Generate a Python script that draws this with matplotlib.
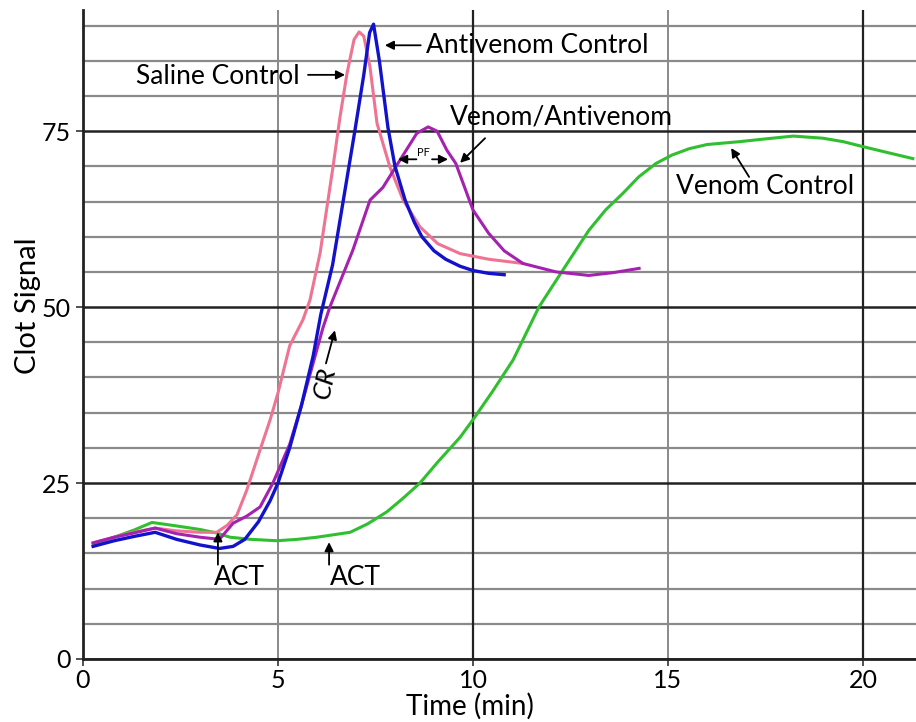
import matplotlib
matplotlib.use('Agg')
import matplotlib.pyplot as plt
from matplotlib.ticker import MultipleLocator

plt.rcParams['font.family'] = ['Lato', 'DejaVu Sans']

# --- data ---
saline_t = [0.26, 0.8, 1.3, 1.85, 2.4, 3.0, 3.43, 3.7, 3.95, 4.2, 4.54, 4.8, 5.0, 5.3, 5.64, 5.82,
            6.08, 6.41, 6.59, 6.77, 6.95, 7.08, 7.2, 7.36, 7.54, 7.87, 8.21, 8.64, 9.1, 9.67, 10.4, 11.28]
saline_y = [16.5, 17.3, 18.0, 18.6, 18.2, 18.0, 18.0, 19.0, 20.5, 24.0, 29.7, 34.0, 37.8, 44.5, 48.2, 51.0,
            57.7, 69.9, 77.0, 83.2, 88.0, 89.1, 88.5, 84.1, 76.1, 69.9, 65.2, 61.4, 59.0, 57.6, 56.8, 56.2]

antivenom_t = [0.26, 0.8, 1.3, 1.85, 2.4, 3.0, 3.5, 3.85, 4.15, 4.5, 4.8, 5.0, 5.3, 5.6, 5.9, 6.1, 6.4,
               6.7, 6.97, 7.2, 7.35, 7.45, 7.6, 7.82, 8.0, 8.26, 8.5, 8.69, 9.0, 9.3, 9.67, 10.0, 10.4, 10.8]
antivenom_y = [16.0, 16.8, 17.4, 18.0, 17.0, 16.2, 15.7, 16.0, 17.0, 19.5, 22.5, 25.0, 30.0, 36.0, 43.0, 49.0, 56.0,
               66.0, 75.0, 83.0, 89.0, 90.2, 85.0, 75.5, 70.0, 65.2, 62.0, 60.0, 58.0, 56.8, 55.8, 55.2, 54.8, 54.6]

venom_av_t = [0.26, 0.8, 1.3, 1.85, 2.4, 3.0, 3.5, 3.85, 4.2, 4.54, 4.87, 5.3, 5.6, 5.9, 6.15, 6.33, 6.92,
              7.36, 7.69, 8.13, 8.56, 8.85, 9.08, 9.33, 9.56, 10.0, 10.4, 10.8, 11.28, 12.13, 12.97, 13.6, 14.26]
venom_av_y = [16.5, 17.3, 17.9, 18.6, 17.8, 17.3, 17.0, 19.3, 20.3, 21.6, 25.0, 30.5, 36.0, 42.0, 47.0, 50.0, 58.1,
              65.2, 67.0, 70.9, 74.7, 75.6, 75.0, 72.3, 70.4, 63.8, 60.5, 58.0, 56.2, 55.0, 54.5, 54.9, 55.5]

venom_t = [0.26, 0.8, 1.3, 1.77, 2.4, 3.0, 3.43, 3.77, 4.3, 4.97, 5.5, 6.0, 6.85, 7.3, 7.79, 8.2, 8.64,
           9.1, 9.67, 10.0, 10.5, 11.03, 11.69, 12.31, 12.97, 13.4, 13.85, 14.25, 14.69, 15.1, 15.54, 16.0,
           16.82, 17.5, 18.21, 18.97, 19.5, 20.0, 20.6, 21.28]
venom_y = [16.3, 17.3, 18.3, 19.4, 18.9, 18.4, 17.9, 17.3, 17.0, 16.8, 17.0, 17.3, 18.0, 19.2, 20.9, 22.8, 25.0,
           28.0, 31.5, 34.0, 38.0, 42.5, 50.0, 55.3, 60.9, 63.8, 66.2, 68.5, 70.4, 71.6, 72.5, 73.1,
           73.5, 73.9, 74.3, 74.0, 73.5, 72.8, 72.0, 71.1]

x_ticks = [0, 5, 10, 15, 20]
y_ticks = [0, 25, 50, 75]

# --- plot ---
fig = plt.figure(figsize=(9.16, 7.22), dpi=100)
ax = fig.add_axes([0.0906, 0.0873, 0.9094, 0.8987])

ax.plot(venom_t, venom_y, color='#2fbf2f', lw=2.2, zorder=3)
ax.plot(saline_t, saline_y, color='#ef7393', lw=2.2, zorder=4)
ax.plot(venom_av_t, venom_av_y, color='#a522b0', lw=2.2, zorder=5)
ax.plot(antivenom_t, antivenom_y, color='#1212cc', lw=2.4, zorder=6)

ax.set_xlim(0, 21.36)
ax.set_ylim(0, 92.2)
ax.set_xticks(x_ticks)
ax.set_yticks(y_ticks)
ax.yaxis.set_minor_locator(MultipleLocator(5))
ax.grid(axis='y', which='minor', color='#8a8a8a', lw=1.6, zorder=1)
ax.grid(axis='y', which='major', color='#222222', lw=1.8, zorder=2)
ax.grid(axis='x', which='major', color='#8a8a8a', lw=1.4, zorder=1)
for xv in (10, 20):
    ax.axvline(xv, color='#222222', lw=1.6, zorder=2)
ax.tick_params(axis='y', which='minor', length=0)
ax.tick_params(axis='both', which='major', labelsize=18, length=5, width=1.2, color='#333333')
ax.tick_params(axis='x', pad=2)
ax.spines['top'].set_visible(False)
ax.spines['right'].set_visible(False)
for s in ('left', 'bottom'):
    ax.spines[s].set_linewidth(2)
    ax.spines[s].set_color('#222222')

ax.set_xlabel('Time (min)', fontsize=20)
ax.set_ylabel('Clot Signal', fontsize=21)
ax.xaxis.set_label_coords(0.465, -0.073)
ax.xaxis.label.set_va('center')
ax.yaxis.set_label_coords(-0.05, 0.545)

# --- annotations ---
arr = dict(arrowstyle='-|>', color='black', lw=1.3, mutation_scale=13, shrinkA=0, shrinkB=0)
fs = 19

def note(tip, tail):
    ax.annotate('', xy=tip, xytext=tail, arrowprops=arr, zorder=7)

ax.text(8.8, 87.2, 'Antivenom Control', fontsize=fs, ha='left', va='center')
note((7.74, 87.2), (8.66, 87.2))
ax.text(5.56, 82.8, 'Saline Control', fontsize=fs, ha='right', va='center')
note((6.72, 83.0), (5.77, 83.0))
ax.text(9.41, 77.0, 'Venom/Antivenom', fontsize=fs, ha='left', va='center')
note((9.67, 70.5), (10.31, 74.0))
ax.text(8.72, 71.9, 'PF', fontsize=8, ha='center', va='center')
note((8.08, 71.0), (8.55, 71.0))
note((9.36, 71.0), (8.95, 71.0))
ax.text(15.2, 67.2, 'Venom Control', fontsize=fs, ha='left', va='center')
note((16.62, 72.6), (17.08, 68.5))
ax.text(6.2, 39.2, 'CR', fontsize=fs, ha='center', va='center', rotation=78, style='italic')
note((6.46, 46.7), (6.23, 42.0))
ax.text(3.36, 11.6, 'ACT', fontsize=fs, ha='left', va='center')
note((3.46, 18.0), (3.46, 13.4))
ax.text(6.33, 11.6, 'ACT', fontsize=fs, ha='left', va='center')
note((6.31, 16.6), (6.31, 13.4))

fig.savefig('out.png', dpi=100)
